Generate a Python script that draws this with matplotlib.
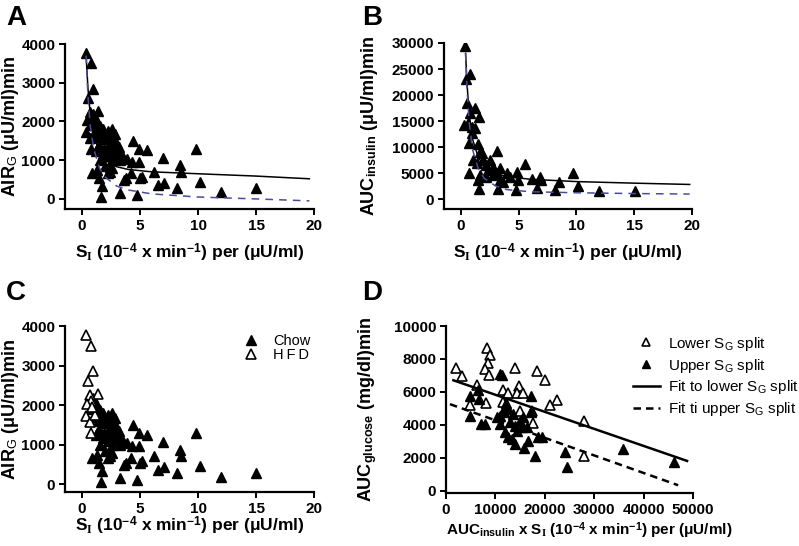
import numpy as np
import matplotlib
matplotlib.use("Agg")
import matplotlib.pyplot as plt
from matplotlib.lines import Line2D

plt.rcParams['font.family'] = ['Liberation Sans', 'DejaVu Sans']
plt.rcParams['mathtext.fontset'] = 'custom'
plt.rcParams['mathtext.rm'] = 'Liberation Sans:bold'
plt.rcParams['mathtext.bf'] = 'Liberation Sans:bold'
plt.rcParams['mathtext.sf'] = 'Liberation Sans'
plt.rcParams['mathtext.it'] = 'Liberation Serif:bold'

# Panel A / C : AIRg vs SI (chow and HFD mice)
si_chow = [0.98, 0.85, 1.0, 0.9, 1.27, 1.56, 1.84, 1.7, 2.56, 2.85, 2.28, 1.41, 2.0, 2.42,
           3.0, 3.2, 1.27, 2.13, 2.71, 1.84, 2.42, 3.14, 3.57, 1.56, 3.29, 3.86, 4.29, 4.87,
           4.38, 4.87, 5.59, 6.97, 9.83, 8.47, 8.56, 6.17, 5.16, 5.0, 4.24, 3.8, 3.63, 2.56,
           2.42, 2.28, 0.84, 1.27, 1.5, 1.7, 1.61, 3.29, 4.78, 6.54, 7.03, 8.18, 10.2, 11.99,
           15.04, 1.1, 1.5, 1.9, 2.2, 2.0, 2.6, 3.3, 1.2, 2.4, 1.8, 2.7, 3.0, 2.2, 0.7]
air_chow = [2183, 2100, 2000, 1950, 2013, 1887, 1802, 1717, 1802, 1675, 1590, 1590, 1548, 1421,
            1421, 1350, 1294, 1294, 1294, 1167, 1167, 1210, 1083, 998, 998, 1040, 956, 956,
            1506, 1294, 1252, 1057, 1294, 871, 702, 702, 575, 533, 660, 533, 491, 787,
            829, 660, 660, 745, 533, 321, 42, 152, 110, 347, 423, 279, 448, 178,
            279, 1700, 1400, 1300, 1100, 850, 1000, 1100, 1250, 700, 1650, 1550, 1150, 1750, 1900]
si_hfd = [0.35, 0.75, 0.98, 0.49, 1.41, 0.70, 0.80, 0.45, 0.35, 0.65, 1.10, 0.75, 0.90]
air_hfd = [3780, 3500, 2850, 2600, 2280, 2250, 2100, 2030, 1730, 1580, 1750, 1300, 1950]

# fit curves
fitA_x = [0.35, 0.5, 0.7, 1.0, 1.5, 2.0, 3.0, 4.0, 6.0, 10, 15, 19.6]
fitA_solid = [3700, 2900, 2200, 1650, 1200, 1000, 830, 760, 700, 650, 590, 520]
fitA_dash = [3700, 2700, 1900, 1300, 800, 560, 330, 230, 130, 50, 0, -50]

# Panel B : AUC insulin vs SI
si_b = [0.35, 0.43, 0.78, 0.49, 0.29, 0.63, 0.78, 1.21, 1.59, 0.92, 1.21, 0.92, 0.72, 1.5,
        1.64, 1.79, 1.07, 1.93, 2.5, 3.14, 1.35, 2.2, 2.8, 3.37, 5.53, 2.36, 3.08, 3.95,
        4.81, 4.24, 1.64, 0.72, 1.5, 2.16, 2.8, 3.37, 3.66, 4.96, 6.11, 6.83, 6.97, 8.5,
        9.71, 10.14, 1.53, 3.23, 4.76, 6.54, 8.13, 11.93, 15.04]
auc_b = [29340, 23110, 24070, 18420, 14250, 14570, 16500, 17460, 15860, 13930, 13610, 12650,
         10720, 10590, 9120, 8800, 7510, 7510, 7510, 9310, 6870, 6550, 6230, 5910, 6740, 5590,
         4940, 4940, 5270, 4300, 4620, 4940, 3660, 4300, 4620, 3660, 3340, 3660, 3790, 4300,
         3660, 3340, 5070, 2500, 1860, 1860, 1730, 2050, 1730, 1600, 1540]
fitB_x = [0.4, 0.5, 0.7, 1.0, 1.5, 2.0, 3.0, 4.0, 6, 10, 15, 19.8]
fitB_solid = [28000, 23000, 16500, 11500, 8000, 6300, 4900, 4300, 3800, 3350, 3050, 2800]
fitB_dash = [28000, 22000, 15000, 9500, 5800, 4000, 2500, 1800, 1400, 1200, 1050, 950]

# Panel D : AUC glucose vs AUC insulin x SI
x_lower = [2020, 3170, 6210, 4860, 8100, 8370, 8910, 8500, 7900, 8770, 13970, 18350, 20040,
           14840, 11600, 12620, 14310, 15650, 11480, 22410, 21050, 14980, 17350, 17670,
           27940, 27940]
y_lower = [7470, 6990, 6420, 5170, 5310, 8650, 8240, 7740, 7370, 7030, 7430, 7290, 6730,
           6380, 6120, 5920, 5920, 5920, 5380, 5520, 5170, 4810, 4810, 4100, 4200, 2080]
x_upper = [4780, 4780, 6390, 6590, 7000, 7810, 10970, 11300, 10300, 10970, 10970, 11640,
           12180, 12650, 11980, 12650, 13320, 14000, 14330, 15340, 15680, 15010, 16360, 17230,
           17160, 16690, 15810, 18030, 18710, 19380, 24160, 24430, 35730, 46100, 13530, 12990,
           14000, 11640]
y_upper = [5720, 4550, 6120, 5560, 4040, 4040, 7070, 7010, 4440, 4550, 4040, 4750, 5350, 4950,
           3540, 3230, 3130, 2830, 3640, 3840, 4440, 4240, 3840, 5760, 4750, 3030, 2570, 2120,
           3230, 3230, 2320, 1410, 2530, 1760, 4650, 4140, 3940, 4950]
fitD_lower_x = [1500, 48800]
fitD_lower_y = [6700, 1800]
fitD_upper_x = [800, 47000]
fitD_upper_y = [5250, 320]

W, H = 799, 546
fig = plt.figure(figsize=(W / 100, H / 100), dpi=100)


def make_ax(left, top, right, bottom):
    ax = fig.add_axes([left / W, 1 - bottom / H, (right - left) / W, (bottom - top) / H])
    for s in ['top', 'right']:
        ax.spines[s].set_visible(False)
    for s in ['left', 'bottom']:
        ax.spines[s].set_linewidth(1.6)
    ax.tick_params(direction='out', length=4, width=1.4, pad=3, labelsize=11)
    return ax


def style_labels(ax, xlabel, ylabel, xl, yl, xsize=12.5, xpos=0.5):
    ax.set_xlabel(xlabel, fontsize=xsize, fontweight='bold', va='top')
    ax.set_ylabel(ylabel, fontsize=13, fontweight='bold', va='bottom')
    ax.xaxis.set_label_coords(xpos, xl)
    ax.yaxis.set_label_coords(yl, 0.5)
    for lab in ax.get_xticklabels() + ax.get_yticklabels():
        lab.set_fontweight('bold')


si_label = r'S$_{\mathit{I}}$ (10$^{-4}$ x min$^{-1}$) per (μU/ml)'
tri = dict(marker='^', markersize=7.5, linestyle='none')
blue = '#4b4b9c'

# A
axA = make_ax(65, 44, 314, 209)
axA.plot(si_chow + si_hfd, air_chow + air_hfd, color='black', **tri)
axA.plot(fitA_x, fitA_solid, color='black', lw=1.1)
axA.plot(fitA_x, fitA_dash, color=blue, lw=1.1, ls=(0, (5, 4)))
axA.set_xlim(-1.47, 20)
axA.set_ylim(-260, 4000)
axA.set_xticks([0, 5, 10, 15, 20])
axA.set_yticks([0, 1000, 2000, 3000, 4000])
style_labels(axA, si_label, r'AIR$_{\mathsf{G}}$ (μU/ml)min', -0.2, -0.175)

# B
axB = make_ax(444, 43, 692, 209)
axB.plot(si_b, auc_b, color='black', **tri)
axB.plot(fitB_x, fitB_solid, color='black', lw=1.1)
axB.plot(fitB_x, fitB_dash, color=blue, lw=1.1, ls=(0, (5, 4)))
axB.set_xlim(-1.47, 20)
axB.set_ylim(-1920, 30000)
axB.set_xticks([0, 5, 10, 15, 20])
axB.set_yticks([0, 5000, 10000, 15000, 20000, 25000, 30000])
style_labels(axB, si_label, r'AUC$_{\mathrm{insulin}}$ (μU/ml)min', -0.2, -0.26)

# C
axC = make_ax(65, 326, 314, 492)
axC.plot(si_chow, air_chow, color='black', label='Chow', **tri)
axC.plot(si_hfd, air_hfd, color='black', markerfacecolor='white', markeredgewidth=1.2,
         label='H\u2009F\u2009D', **tri)
axC.set_xlim(-1.47, 20)
axC.set_ylim(-200, 4000)
axC.set_xticks([0, 5, 10, 15, 20])
axC.set_yticks([0, 1000, 2000, 3000, 4000])
style_labels(axC, si_label, r'AIR$_{\mathsf{G}}$ (μU/ml)min', -0.14, -0.175)
axC.legend(loc='upper left', bbox_to_anchor=(0.66, 1.03), frameon=False, fontsize=10.5,
           handlelength=1.2, handletextpad=0.9, labelspacing=0.0)

# D
axD = make_ax(446, 326, 693, 493)
axD.plot(x_lower, y_lower, color='black', markerfacecolor='white', markeredgewidth=1.2, **tri)
axD.plot(x_upper, y_upper, color='black', **tri)
axD.plot(fitD_lower_x, fitD_lower_y, color='black', lw=1.8)
axD.plot(fitD_upper_x, fitD_upper_y, color='black', lw=1.8, ls=(0, (3, 2)))
axD.set_xlim(0, 50000)
axD.set_ylim(-150, 10000)
axD.set_xticks([0, 10000, 20000, 30000, 40000, 50000])
axD.set_yticks([0, 2000, 4000, 6000, 8000, 10000])
style_labels(axD, r'AUC$_{\mathrm{insulin}}$ x ' + si_label,
             r'AUC$_{\mathrm{glucose}}$ (mg/dl)min', -0.16, -0.27, xsize=11, xpos=0.58)
handles = [
    Line2D([], [], color='black', markerfacecolor='white', markeredgewidth=1.2, marker='^',
           markersize=6, ls='none'),
    Line2D([], [], color='black', marker='^', markersize=6, ls='none'),
    Line2D([], [], color='black', lw=1.8),
    Line2D([], [], color='black', lw=1.8, ls=(0, (3, 2))),
]
labels = [r'Lower S$_{\mathsf{G}}$ split', r'Upper S$_{\mathsf{G}}$ split',
          r'Fit to lower S$_{\mathsf{G}}$ split', r'Fit ti upper S$_{\mathsf{G}}$ split']
axD.legend(handles, labels, loc='upper left', bbox_to_anchor=(0.7, 1.03), frameon=False,
           fontsize=11, handlelength=1.8, handletextpad=0.5, labelspacing=0.25)

# panel letters
for letter, x, y in [('A', 6, 5), ('B', 362, 5), ('C', 6, 280), ('D', 362, 280)]:
    fig.text(x / W, 1 - y / H, letter, fontsize=20, fontweight='bold', va='top', ha='left')

fig.savefig('out.png', dpi=100)
